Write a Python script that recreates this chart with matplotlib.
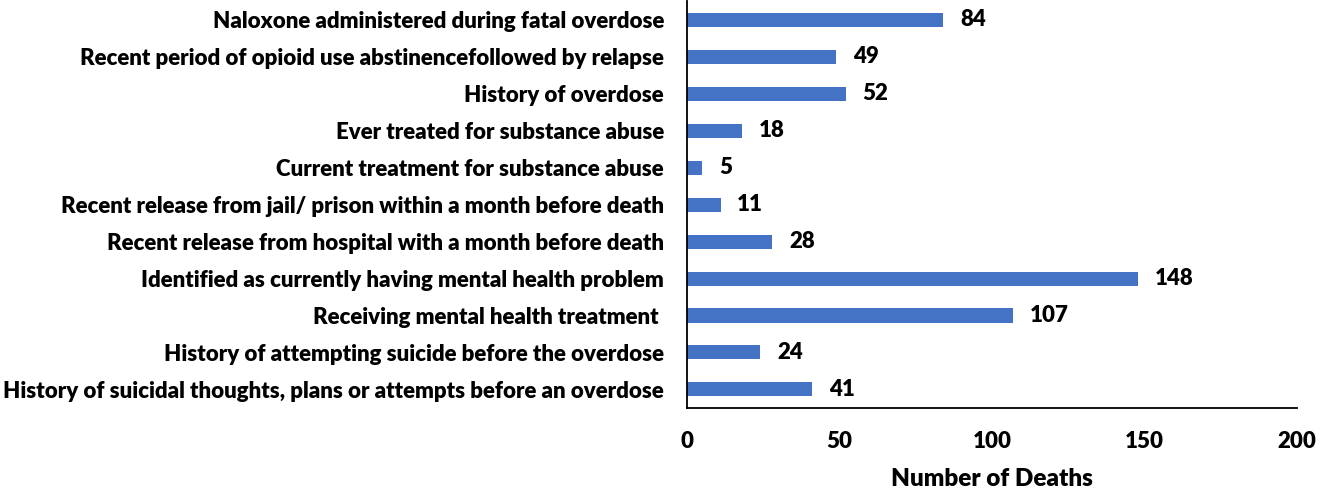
# plot.py
# horizontal bar chart of circumstances around overdose deaths

import matplotlib.pyplot as plt
import numpy as np

plt.rcParams['font.family'] = ['Lato', 'DejaVu Sans']
plt.rcParams['font.weight'] = 'heavy'

# categories, top to bottom as shown in the chart
categories = [
    "Naloxone administered during fatal overdose",
    "Recent period of opioid use abstinencefollowed by relapse",
    "History of overdose",
    "Ever treated for substance abuse",
    "Current treatment for substance abuse",
    "Recent release from jail/ prison within a month before death",
    "Recent release from hospital with a month before death",
    "Identified as currently having mental health problem",
    "Receiving mental health treatment ",
    "History of attempting suicide before the overdose",
    "History of suicidal thoughts, plans or attempts before an overdose",
]
deaths = [84, 49, 52, 18, 5, 11, 28, 148, 107, 24, 41]
x_ticks = [0, 50, 100, 150, 200]

fig = plt.figure(figsize=(13.35, 4.92), dpi=100)
ax = fig.add_axes([0.5146, 0.171, 0.4570, 0.826])

y = np.arange(len(categories))
ax.barh(y, deaths, height=0.38, color='#4472C4')

# value labels at the end of each bar
for yi, v in zip(y, deaths):
    ax.text(v + 5.5, yi, str(v), va='center', ha='left',
            fontsize=16, fontweight='heavy', color='black')

ax.set_yticks(y)
ax.set_yticklabels(categories, fontsize=16, fontweight='heavy')
ax.set_ylim(len(categories) - 0.5, -0.5)

ax.set_xlim(0, 200)
ax.set_xticks(x_ticks)
ax.set_xticklabels([str(t) for t in x_ticks], fontsize=16, fontweight='heavy')
ax.tick_params(axis='both', length=0)
ax.tick_params(axis='x', pad=17)
ax.tick_params(axis='y', pad=16.5)

ax.set_xlabel("Number of Deaths", fontsize=17.5, fontweight='heavy', labelpad=11)

ax.spines['top'].set_visible(False)
ax.spines['right'].set_visible(False)
ax.spines['left'].set_linewidth(1.3)
ax.spines['bottom'].set_linewidth(1.3)

fig.savefig("out.png", dpi=100)
